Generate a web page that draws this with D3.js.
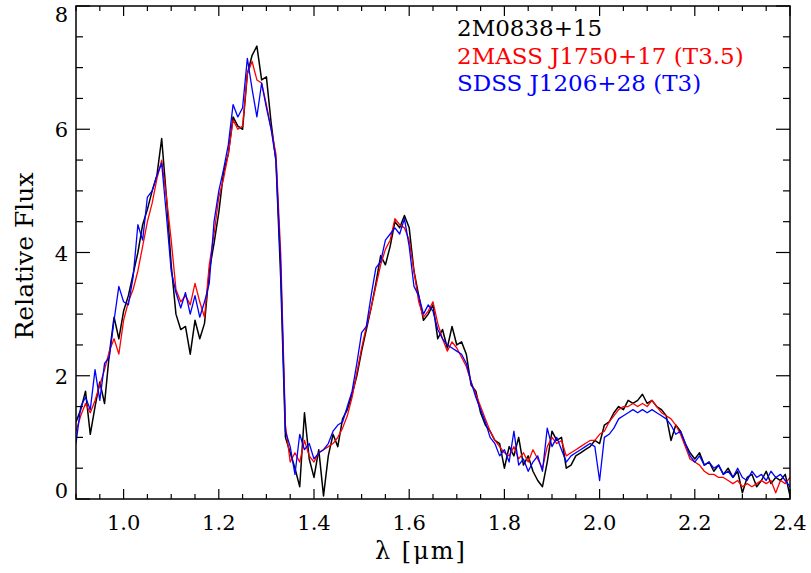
<!DOCTYPE html>
<html><head><meta charset="utf-8">
<script src="https://cdn.jsdelivr.net/npm/d3@7/dist/d3.min.js"></script>
<style>html,body{margin:0;padding:0;background:#fff;}svg{display:block;}</style>
</head><body>
<svg id="chart" width="811" height="573"></svg>
<script>
const wavelength = [0.90,0.91,0.92,0.93,0.94,0.95,0.96,0.97,0.98,0.99,
1.00,1.01,1.02,1.03,1.04,1.05,1.06,1.07,1.08,1.09,
1.10,1.11,1.12,1.13,1.14,1.15,1.16,1.17,1.18,1.19,
1.20,1.21,1.22,1.23,1.24,1.25,1.26,1.27,1.28,1.29,
1.30,1.31,1.32,1.33,1.34,1.35,1.36,1.37,1.38,1.39,
1.40,1.41,1.42,1.43,1.44,1.45,1.46,1.47,1.48,1.49,
1.50,1.51,1.52,1.53,1.54,1.55,1.56,1.57,1.58,1.59,
1.60,1.61,1.62,1.63,1.64,1.65,1.66,1.67,1.68,1.69,
1.70,1.71,1.72,1.73,1.74,1.75,1.76,1.77,1.78,1.79,
1.80,1.81,1.82,1.83,1.84,1.85,1.86,1.87,1.88,1.89,
1.90,1.91,1.92,1.93,1.94,1.95,1.96,1.97,1.98,1.99,
2.00,2.01,2.02,2.03,2.04,2.05,2.06,2.07,2.08,2.09,
2.10,2.11,2.12,2.13,2.14,2.15,2.16,2.17,2.18,2.19,
2.20,2.21,2.22,2.23,2.24,2.25,2.26,2.27,2.28,2.29,
2.30,2.31,2.32,2.33,2.34,2.35,2.36,2.37,2.38,2.39,2.40];

// 2M0838+15 (black)
const flux2M0838 = [1.25,1.45,1.75,1.05,1.5,1.9,1.55,2.35,2.95,2.6,
3.05,3.3,3.65,4.0,4.45,4.7,5.0,5.25,5.85,4.9,
3.8,3.0,2.75,2.8,2.35,2.9,2.6,2.85,3.7,4.15,
4.65,5.3,5.6,6.2,6.05,6.0,6.9,7.2,7.35,6.8,
6.85,6.1,5.5,3.6,1.0,0.75,0.5,0.2,1.4,0.65,
0.35,0.8,0.05,0.7,1.05,0.85,1.3,1.45,1.7,2.0,
2.4,2.75,3.1,3.5,3.95,3.8,4.1,4.5,4.4,4.6,
4.4,3.7,3.3,2.9,3.0,3.15,2.6,2.75,2.45,2.8,
2.5,2.55,2.35,1.85,1.75,1.4,1.2,1.1,0.95,0.9,
0.5,0.85,0.7,1.0,0.55,0.7,0.45,0.3,0.2,0.6,
1.1,0.95,1.0,0.5,0.55,0.7,0.75,0.8,0.85,0.95,
0.9,1.2,1.25,1.4,1.5,1.45,1.6,1.55,1.6,1.7,
1.55,1.6,1.5,1.45,1.35,0.95,1.2,1.1,0.9,0.75,
0.65,0.75,0.55,0.6,0.45,0.55,0.4,0.5,0.35,0.45,
0.1,0.35,0.4,0.2,0.3,0.45,0.25,0.35,0.3,0.4,0.05];

// 2MASS J1750+17 (T3.5) (red)
const fluxJ1750 = [1.1,1.35,1.55,1.4,1.6,1.85,2.1,2.4,2.6,2.35,
2.9,3.2,3.4,3.7,4.1,4.5,4.8,5.2,5.5,4.9,
4.2,3.4,3.2,3.3,3.15,3.5,3.2,2.95,3.8,4.3,
4.9,5.2,5.6,6.15,6.0,6.05,6.9,7.1,6.8,6.75,
6.4,6.0,5.6,4.0,1.2,0.6,0.75,0.6,0.95,0.7,
0.6,0.75,0.8,0.85,0.9,1.0,1.15,1.35,1.65,2.05,
2.45,2.8,3.1,3.45,3.8,4.05,4.2,4.55,4.45,4.4,
4.2,3.7,3.2,2.95,3.05,3.2,2.85,2.6,2.4,2.55,
2.45,2.3,2.15,1.9,1.7,1.5,1.3,1.1,0.95,0.85,
0.75,0.7,0.85,0.65,0.75,0.6,0.8,0.65,0.5,0.85,
1.0,0.9,0.95,0.7,0.75,0.8,0.85,0.9,0.95,0.95,
1.05,1.1,1.25,1.35,1.45,1.5,1.5,1.55,1.5,1.55,
1.5,1.6,1.5,1.4,1.35,1.3,1.2,1.05,0.85,0.65,
0.6,0.55,0.45,0.4,0.4,0.35,0.35,0.3,0.25,0.3,
0.2,0.25,0.2,0.25,0.3,0.25,0.3,0.1,0.3,0.25,0.35];

// SDSS J1206+28 (T3) (blue)
const fluxJ1206 = [0.9,1.5,1.65,1.45,2.1,1.6,2.2,2.3,2.9,3.45,
3.2,3.15,3.6,4.45,4.2,4.9,5.0,5.25,5.45,4.6,
3.7,3.35,3.1,3.35,3.0,3.3,2.95,3.2,3.5,4.5,
5.0,5.35,5.75,6.4,6.2,6.35,7.15,6.65,6.2,6.75,
6.35,6.0,5.5,3.8,1.1,0.85,0.4,1.05,0.8,0.9,
0.65,0.75,0.8,0.9,1.1,1.2,1.25,1.5,1.75,2.2,
2.7,2.8,3.3,3.75,3.85,4.2,4.3,4.4,4.3,4.55,
4.1,3.45,3.3,3.0,3.15,3.05,2.75,2.6,2.5,2.45,
2.4,2.35,2.2,1.9,1.65,1.45,1.25,1.0,0.9,0.7,
0.8,0.6,1.1,0.55,0.65,0.45,0.6,0.7,0.45,1.15,
0.85,1.0,0.8,0.6,0.7,0.75,0.8,0.85,0.9,0.85,
0.3,1.0,1.05,1.15,1.3,1.35,1.4,1.45,1.4,1.45,
1.4,1.45,1.4,1.35,1.3,1.2,1.05,1.1,0.9,0.7,
0.6,0.7,0.55,0.6,0.5,0.55,0.4,0.45,0.35,0.5,
0.35,0.3,0.45,0.35,0.4,0.3,0.45,0.35,0.4,0.3,0.2];

const seriesNames = ["2M0838+15", "2MASS J1750+17 (T3.5)", "SDSS J1206+28 (T3)"];
const seriesColors = ["#000000", "#ff0000", "#0000ff"];
const xMajorTicks = [1.0, 1.2, 1.4, 1.6, 1.8, 2.0, 2.2, 2.4];
const xTickLabels = ["1.0", "1.2", "1.4", "1.6", "1.8", "2.0", "2.2", "2.4"];
const yMajorTicks = [0, 2, 4, 6, 8];
const yTickLabels = ["0", "2", "4", "6", "8"];

const svg = d3.select("#chart");
const font = "'DejaVu Serif', serif";
const L = 76, R = 790, T = 6, B = 499;
const x = d3.scaleLinear().domain([0.9, 2.4]).range([L, R]);
const y = d3.scaleLinear().domain([0, 8]).range([B, T]);

const allSeries = [flux2M0838, fluxJ1750, fluxJ1206];
svg.append("clipPath").attr("id", "clip").append("rect")
  .attr("x", L).attr("y", T).attr("width", R - L).attr("height", B - T);
const line = d3.line().x((d, i) => x(wavelength[i])).y(d => y(d));
const lineG = svg.append("g").attr("clip-path", "url(#clip)");
allSeries.forEach((s, k) => {
  lineG.append("path").datum(s).attr("d", line)
    .attr("fill", "none").attr("stroke", seriesColors[k])
    .attr("stroke-width", k === 0 ? 1.5 : 1.3).attr("stroke-linejoin", "round");
});

// ticks
const xMinor = d3.range(18, 49).map(v => v * 0.05);
const yMinor = d3.range(0, 17).map(v => v * 0.5);
const tickG = svg.append("g").attr("stroke", "#000").attr("stroke-width", 1.2);
xMinor.forEach(v => {
  const major = xMajorTicks.some(m => Math.abs(m - v) < 1e-6);
  const len = major ? 10 : 5;
  tickG.append("line").attr("x1", x(v)).attr("x2", x(v)).attr("y1", B).attr("y2", B - len);
  tickG.append("line").attr("x1", x(v)).attr("x2", x(v)).attr("y1", T).attr("y2", T + len);
});
yMinor.forEach(v => {
  const major = yMajorTicks.some(m => Math.abs(m - v) < 1e-6);
  const len = major ? 14 : 7;
  tickG.append("line").attr("y1", y(v)).attr("y2", y(v)).attr("x1", L).attr("x2", L + len);
  tickG.append("line").attr("y1", y(v)).attr("y2", y(v)).attr("x1", R).attr("x2", R - len);
});

svg.append("rect").attr("x", L).attr("y", T).attr("width", R - L).attr("height", B - T)
  .attr("fill", "none").attr("stroke", "#000").attr("stroke-width", 1.5);

// tick labels
xMajorTicks.forEach((v, i) => {
  svg.append("text").attr("x", x(v)).attr("y", 530).attr("text-anchor", "middle")
    .attr("font-family", font).attr("font-size", 21).attr("fill", "#000").text(xTickLabels[i]);
});
yMajorTicks.forEach((v, i) => {
  let yy = y(v) + 8;
  if (i === 0) yy = y(v) - 1;
  if (i === yMajorTicks.length - 1) yy = y(v) + 16;
  svg.append("text").attr("x", 68).attr("y", yy).attr("text-anchor", "end")
    .attr("font-family", font).attr("font-size", 21).attr("fill", "#000").text(yTickLabels[i]);
});

svg.append("text").attr("transform", "translate(33,256) rotate(-90)").attr("text-anchor", "middle")
  .attr("font-family", font).attr("font-size", 25).attr("fill", "#000").text("Relative Flux");
svg.append("text").attr("x", 421).attr("y", 559).attr("text-anchor", "middle")
  .attr("font-family", font).attr("font-size", 24).attr("letter-spacing", 2)
  .attr("fill", "#000").text("λ [μm]");

// legend
seriesNames.forEach((n, k) => {
  svg.append("text").attr("x", 457).attr("y", 36 + k * 27.5)
    .attr("font-family", font).attr("font-size", 23).attr("fill", seriesColors[k]).text(n);
});
</script>
</body></html>
